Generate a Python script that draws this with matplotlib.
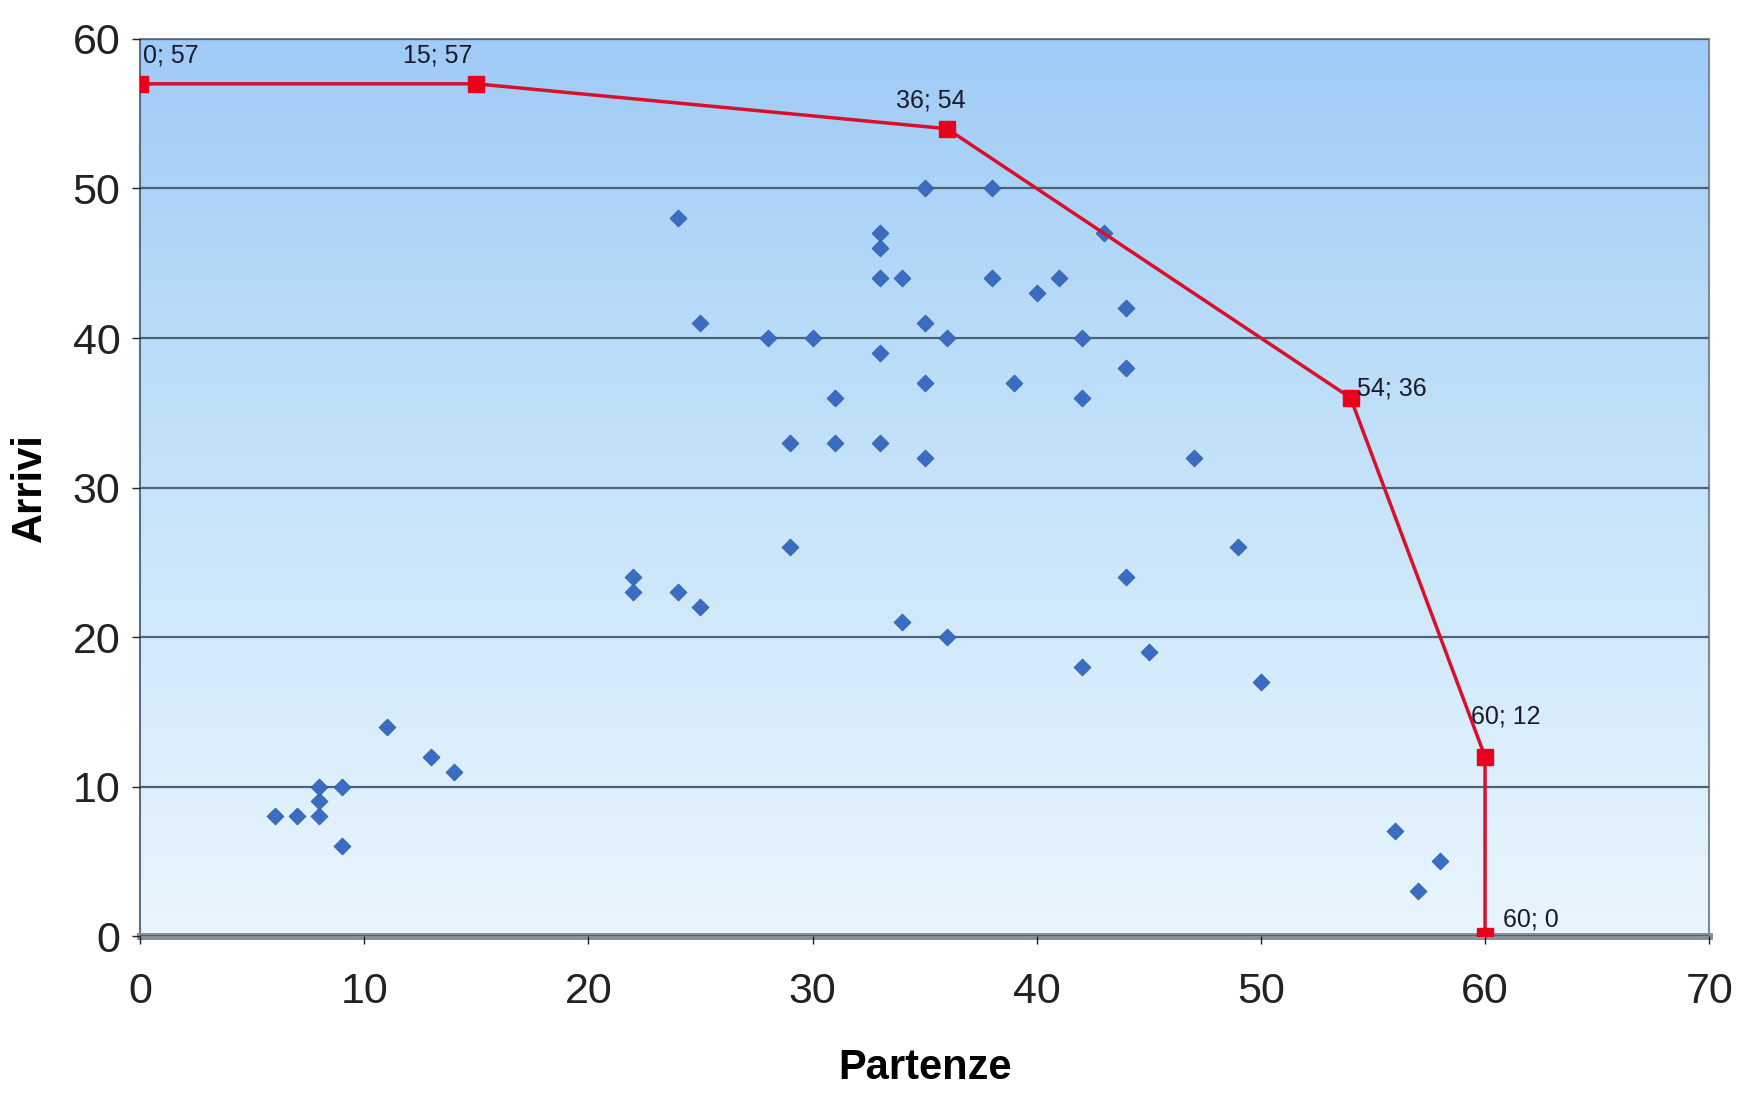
import numpy as np
import matplotlib
matplotlib.use("Agg")
import matplotlib.pyplot as plt
from matplotlib.colors import LinearSegmentedColormap

plt.rcParams['font.family'] = ['Liberation Sans', 'DejaVu Sans']

# scatter data: Partenze (x) vs Arrivi (y)
partenze = [6, 7, 8, 8, 8, 9, 9, 11, 13, 14,
            22, 22, 24, 25, 24, 25, 28, 30, 29, 29, 31, 31,
            33, 33, 33, 34, 33, 33, 35, 38, 35, 36, 35, 35, 34, 36,
            38, 40, 41, 39, 42, 42, 43, 44, 44, 47, 42, 44, 45, 49, 50,
            56, 57, 58]
arrivi = [8, 8, 8, 9, 10, 10, 6, 14, 12, 11,
          24, 23, 23, 22, 48, 41, 40, 40, 33, 26, 36, 33,
          47, 46, 44, 44, 39, 33, 50, 50, 41, 40, 37, 32, 21, 20,
          44, 43, 44, 37, 40, 36, 47, 42, 38, 32, 18, 24, 19, 26, 17,
          7, 3, 5]

# frontier line
front_x = [0, 15, 36, 54, 60, 60]
front_y = [57, 57, 54, 36, 12, 0]
front_labels = ["0; 57", "15; 57", "36; 54", "54; 36", "60; 12", "60; 0"]

fig = plt.figure(figsize=(17.37, 10.98), dpi=100)
ax = fig.add_axes([0.0806, 0.1475, 0.9034, 0.817])

# gradient background
cmap = LinearSegmentedColormap.from_list(
    "bg", ["#e9f5fd", "#d2eafb", "#b9dcf8", "#9fcbf6"])
grad = np.linspace(0, 1, 256).reshape(-1, 1)
ax.imshow(grad, cmap=cmap, aspect="auto", origin="lower",
          extent=[0, 1, 0, 1], transform=ax.transAxes, zorder=0)

ax.set_xlim(0, 70)
ax.set_ylim(0, 60)
ax.set_xticks(range(0, 71, 10))
ax.set_yticks(range(0, 61, 10))
ax.yaxis.grid(True, color="#4d6278", lw=1.6, zorder=1)
ax.set_axisbelow(False)

ax.scatter(partenze, arrivi, marker="D", s=75, color="#3a6cc2",
           edgecolors="#2f5aa8", linewidths=0.5, zorder=3)

ax.plot(front_x, front_y, color="#d8102c", lw=2.5, marker="s",
        markersize=11, markerfacecolor="#e8001c", markeredgecolor="#e8001c",
        zorder=4)

offsets = [(2, 12, "left"), (-3, 12, "right"), (-12, 12, "center"),
           (5, -2, "left"), (-10, 20, "left"), (13, 3, "left")]
for x, y, lab, (dx, dy, ha) in zip(front_x, front_y, front_labels, offsets):
    ax.annotate(lab, (x, y), xytext=(dx, dy), textcoords="offset points",
                ha=ha, va="bottom", fontsize=18, color="#1a1a2a", zorder=5)

for s in ["top", "right"]:
    ax.spines[s].set_color("#7a8a9a")
    ax.spines[s].set_linewidth(1.5)
ax.spines["left"].set_color("#5b6f85")
ax.spines["left"].set_linewidth(1.5)
ax.spines["bottom"].set_color("#8a8f96")
ax.spines["bottom"].set_linewidth(5)

ax.tick_params(axis="both", labelsize=31, colors="#222222", length=6,
               width=1, direction="out")
ax.tick_params(axis="x", pad=20)
ax.tick_params(axis="y", pad=8)

ax.set_xlabel("Partenze", fontsize=30, fontweight="bold", labelpad=26)
ax.set_ylabel("Arrivi", fontsize=30, fontweight="bold", labelpad=16)

fig.savefig("out.png", dpi=100, facecolor="white")
